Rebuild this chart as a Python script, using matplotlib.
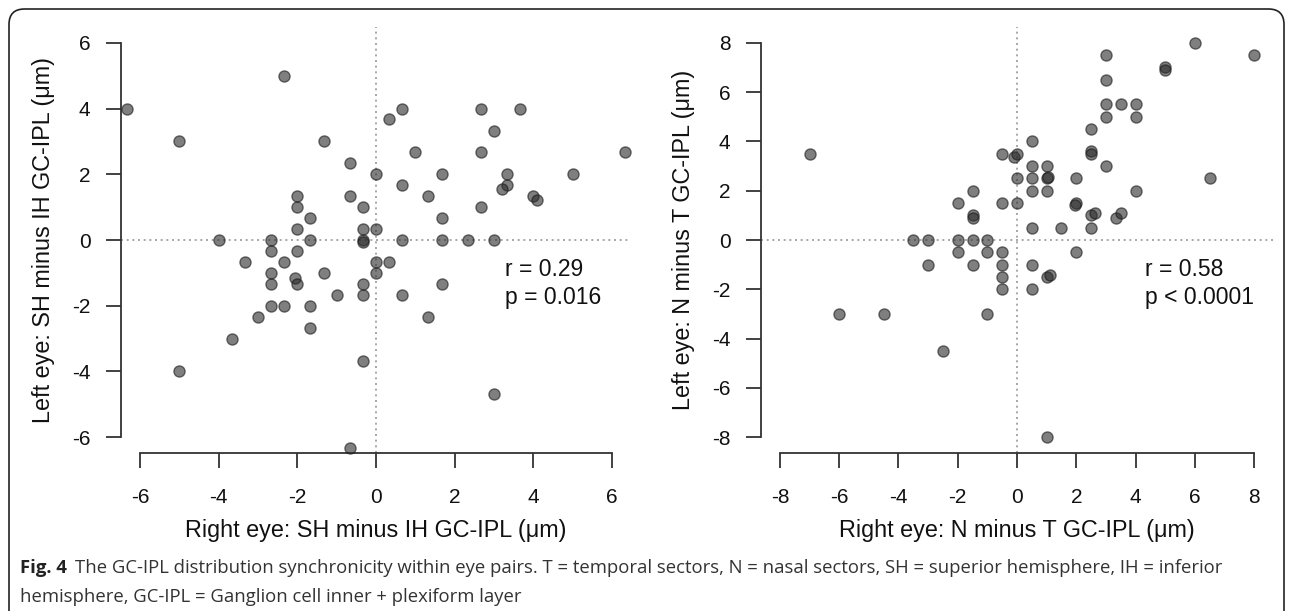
'''plot.py

   GC-IPL distribution synchronicity within eye pairs (two scatter panels).
'''

import numpy as np
import matplotlib
matplotlib.use('Agg')
import matplotlib.pyplot as plt
from matplotlib.patches import FancyBboxPatch


#
#  Data: left panel (SH minus IH), right panel (N minus T), in um.
#
sh_right = [-6.33, -2.33, -5, -1.33, -0.67, 0, -2, -0.67, -2, -0.33,
            -1.67, -2, -0.33, 0, -4, -2.67, -1.67, -0.33, -0.33, -2.67,
            -2, -3.33, -2.33, 0, -2.67, -1.33, 0, -2.07, -2, -2.67,
            -0.33, -1, -0.33, -2.67, -2.33, -1.67, -3, -1.67, -3.67, -5,
            -0.33, -0.67, 0.67, 0.33, 2.67, 3.67, 3, 1, 2.67, 6.33,
            1.67, 3.33, 5, 0.67, 3.33, 3.2, 1.33, 4, 4.08, 2.67,
            1.67, 0.67, 1.67, 2.33, 3, 0.33, 1.67, 0.67, 1.33, 3]
sh_left = [4, 5, 3, 3, 2.33, 2, 1.33, 1.33, 1, 1,
           0.67, 0.33, 0.33, 0.33, 0, 0, 0, 0, -0.05, -0.33,
           -0.33, -0.67, -0.67, -0.67, -1, -1, -1, -1.17, -1.33, -1.33,
           -1.33, -1.67, -1.67, -2, -2, -2, -2.33, -2.67, -3, -4,
           -3.67, -6.33, 4, 3.67, 4, 4, 3.33, 2.67, 2.67, 2.67,
           2, 2, 2, 1.67, 1.67, 1.55, 1.33, 1.33, 1.22, 1,
           0.67, 0, 0, 0, 0, -0.67, -1.33, -1.67, -2.33, -4.67]

nt_right = [-7, -0.5, -0.1, 0, 0, -1.5, -2, -0.5, 0, -1.5,
            -1.5, -3.5, -3, -2, -1.5, -1, -2, -1, -0.5, -3,
            -1.5, -0.5, -0.5, -0.5, -6, -4.5, -1, -2.5, 6, 8,
            3, 5, 5, 3, 3, 3.5, 4, 3, 4, 2.5,
            0.5, 2.5, 2.5, 0.5, 1, 3, 0.5, 1, 1.05, 2,
            0.5, 1, 4, 6.5, 2, 1.95, 2.5, 2.63, 3.33, 3.5,
            0.5, 1.5, 2.5, 2, 0.5, 1, 1.13, 0.5, 1]
nt_left = [3.5, 3.5, 3.35, 3.5, 2.5, 2, 1.5, 1.5, 1.5, 1,
           0.9, 0, 0, 0, 0, 0, -0.5, -0.5, -0.5, -1,
           -1, -1, -1.5, -2, -3, -3, -3, -4.5, 8, 7.5,
           7.5, 7, 6.9, 6.5, 5.5, 5.5, 5.5, 5, 5, 4.5,
           4, 3.6, 3.5, 3, 3, 3, 2.5, 2.5, 2.55, 2.5,
           2, 2, 2, 2.5, 1.5, 1.4, 1, 1.1, 0.9, 1.1,
           0.5, 0.5, 0.5, -0.5, -1, -1.5, -1.4, -2, -8]

panels = [
    dict(x=sh_right, y=sh_left, lim=6, ticks=[-6, -4, -2, 0, 2, 4, 6],
         xlabel='Right eye: SH minus IH GC-IPL (\u03bcm)',
         ylabel='Left eye: SH minus IH GC-IPL (\u03bcm)',
         stats=['r = 0.29', 'p = 0.016'], tx=3.27, ty=[-0.9, -1.75]),
    dict(x=nt_right, y=nt_left, lim=8, ticks=[-8, -6, -4, -2, 0, 2, 4, 6, 8],
         xlabel='Right eye: N minus T GC-IPL (\u03bcm)',
         ylabel='Left eye: N minus T GC-IPL (\u03bcm)',
         stats=['r = 0.58', 'p < 0.0001'], tx=4.33, ty=[-1.2, -2.33]),
]

plt.rcParams['font.family'] = ['Liberation Sans', 'DejaVu Sans']
plt.rcParams['axes.unicode_minus'] = False

W, H = 1292, 611
fig = plt.figure(figsize=(W / 100, H / 100), dpi=100)

# Axes boxes in pixels: (left, right, top, bottom)
boxes = [(121, 631, 27, 453), (761, 1273, 27, 453)]

axcol = '#333333'
for p, (x0, x1, y0, y1) in zip(panels, boxes):
    ax = fig.add_axes([x0 / W, 1 - y1 / H, (x1 - x0) / W, (y1 - y0) / H])
    ext = p['lim'] * 1.08
    ax.set_xlim(-ext, ext)
    ax.set_ylim(-ext, ext)

    ax.axhline(0, color='#9a9a9a', linestyle=(0, (1.2, 2.2)), lw=1.2, zorder=1)
    ax.axvline(0, color='#9a9a9a', linestyle=(0, (1.2, 2.2)), lw=1.2, zorder=1)

    ax.scatter(p['x'], p['y'], s=64, facecolor='#2a2a2a', edgecolor='#1a1a1a',
               linewidths=1.0, alpha=0.6, zorder=3, clip_on=False)

    for s, ty in zip(p['stats'], p['ty']):
        ax.text(p['tx'], ty, s, fontsize=16.5, color='#111111', va='center', ha='left')

    for side in ['top', 'right']:
        ax.spines[side].set_visible(False)
    for side in ['left', 'bottom']:
        ax.spines[side].set_color(axcol)
        ax.spines[side].set_linewidth(1.3)
        ax.spines[side].set_bounds(p['ticks'][0], p['ticks'][-1])

    ax.set_xticks(p['ticks'])
    ax.set_yticks(p['ticks'])
    ax.tick_params(axis='both', direction='out', length=11, width=1.3,
                   color=axcol, labelsize=15, labelcolor='#111111')
    ax.tick_params(axis='x', pad=14)
    ax.tick_params(axis='y', pad=11)

    ax.set_xlabel(p['xlabel'], fontsize=16.8, color='#111111', labelpad=9)
    ax.set_ylabel(p['ylabel'], fontsize=16.8, color='#111111', labelpad=12)
    ax.set_facecolor('none')

# Caption
cap_font = ['Open Sans', 'DejaVu Sans']
fig.text(20 / W, 1 - 568 / H, 'Fig. 4', fontsize=13.3, fontweight='bold',
         family=cap_font, va='center', ha='left', color='#222222')
fig.text(75 / W, 1 - 568 / H,
         'The GC-IPL distribution synchronicity within eye pairs. T = temporal sectors, '
         'N = nasal sectors, SH = superior hemisphere, IH = inferior',
         fontsize=13.3, family=cap_font, va='center', ha='left', color='#333333')
fig.text(20 / W, 1 - 597 / H,
         'hemisphere, GC-IPL = Ganglion cell inner + plexiform layer',
         fontsize=13.3, family=cap_font, va='center', ha='left', color='#333333')

# Rounded frame round the figure
frame = FancyBboxPatch((9 / W, -0.05), (1284 - 9) / W, 1 - 9 / H + 0.05,
                       boxstyle='round,pad=0,rounding_size=0.012',
                       transform=fig.transFigure, fill=False,
                       edgecolor='#222222', lw=1.2, clip_on=False,
                       mutation_aspect=W / H)
fig.patches.append(frame)

fig.savefig('out.png', dpi=100)
